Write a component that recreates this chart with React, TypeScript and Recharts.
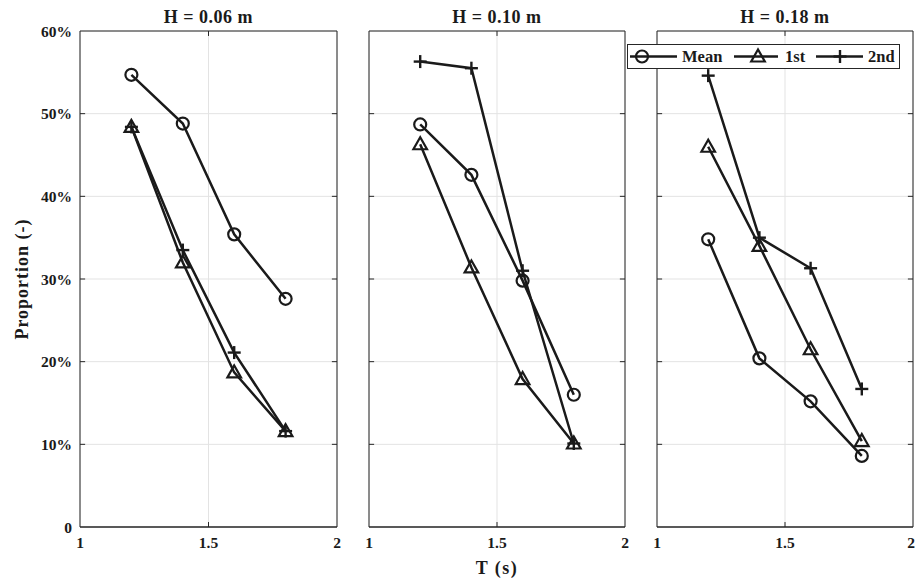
import React from "react";
import { LineChart, Line, XAxis, YAxis, CartesianGrid, ReferenceLine } from "recharts";

// wave period (s)
const periods = [1.2, 1.4, 1.6, 1.8];

const panelTitles = ["H = 0.06 m", "H = 0.10 m", "H = 0.18 m"];
const seriesNames = ["Mean", "1st", "2nd"];

// proportions (%) per panel
const meanH006 = [54.7, 48.8, 35.4, 27.6];
const firstH006 = [48.4, 32.0, 18.7, 11.6];
const secondH006 = [48.4, 33.5, 21.1, 11.6];

const meanH010 = [48.7, 42.6, 29.8, 16.0];
const firstH010 = [46.3, 31.4, 17.9, 10.1];
const secondH010 = [56.3, 55.5, 31.0, 10.1];

const meanH018 = [34.8, 20.4, 15.2, 8.6];
const firstH018 = [46.0, 34.0, 21.5, 10.4];
const secondH018 = [54.6, 35.0, 31.3, 16.7];

const xTicks = [1, 1.5, 2];
const yTicks = [0, 10, 20, 30, 40, 50, 60];

const INK = "#1a1a1a";
const AXIS = "#262626";
const FONT = "'Liberation Serif', 'Times New Roman', serif";

const buildRows = (m: number[], f: number[], s: number[]) =>
  periods.map((t, i) => ({ t, mean: m[i], first: f[i], second: s[i] }));

const panels = [
  buildRows(meanH006, firstH006, secondH006),
  buildRows(meanH010, firstH010, secondH010),
  buildRows(meanH018, firstH018, secondH018),
];

function CircleMark({ cx, cy }: { cx: number; cy: number }) {
  return <circle cx={cx} cy={cy} r={6} fill="none" stroke={INK} strokeWidth={2.2} />;
}
function TriMark({ cx, cy }: { cx: number; cy: number }) {
  return (
    <polygon
      points={`${cx},${cy - 7} ${cx - 6.8},${cy + 5} ${cx + 6.8},${cy + 5}`}
      fill="none" stroke={INK} strokeWidth={2.2} strokeLinejoin="miter"
    />
  );
}
function PlusMark({ cx, cy }: { cx: number; cy: number }) {
  return (
    <g stroke={INK} strokeWidth={2.4}>
      <line x1={cx - 6.5} y1={cy} x2={cx + 6.5} y2={cy} />
      <line x1={cx} y1={cy - 6.5} x2={cx} y2={cy + 6.5} />
    </g>
  );
}

const dotFn = (Mark: typeof CircleMark) => (p: any) =>
  <Mark key={`m-${p.index}`} cx={p.cx} cy={p.cy} />;

const tickStyle = { fontFamily: FONT, fontWeight: 700, fontSize: 15.5, fill: INK };

// chart boxes: left pos, width, margins -> plot areas 80-337, 369-625, 657-913
const layout = [
  { left: 0, width: 345, ml: 0, mr: 8, yw: 80 },
  { left: 361, width: 272, ml: 8, mr: 8, yw: 0 },
  { left: 649, width: 266, ml: 8, mr: 2, yw: 0 },
];

// inward tick marks (matlab style), length in data units
const TX = 0.02;
const TY = 0.6;

function Panel({ idx }: { idx: number }) {
  const l = layout[idx];
  const first = idx === 0;
  return (
    <div style={{ position: "absolute", left: l.left, top: 0 }}>
      <LineChart
        width={l.width}
        height={585}
        data={panels[idx]}
        margin={{ top: 31, right: l.mr, bottom: 28, left: l.ml }}
      >
        <CartesianGrid stroke="#e3e3e3" strokeWidth={1} />
        <XAxis
          type="number" dataKey="t" domain={[1, 2]} ticks={xTicks} allowDataOverflow
          height={30} tickSize={0} tickMargin={10} axisLine={false} tickLine={false}
          tick={tickStyle}
        />
        <YAxis
          type="number" domain={[0, 60]} ticks={yTicks} allowDataOverflow
          hide={!first} width={l.yw} tickSize={0} tickMargin={8}
          axisLine={false} tickLine={false} tick={tickStyle}
          tickFormatter={(v: number) => (v === 0 ? "0" : `${v}%`)}
        />
        {yTicks.slice(1, -1).map((v) => (
          <ReferenceLine key={`yl${v}`} segment={[{ x: 1, y: v }, { x: 1 + TX, y: v }]} stroke={AXIS} />
        ))}
        {yTicks.slice(1, -1).map((v) => (
          <ReferenceLine key={`yr${v}`} segment={[{ x: 2 - TX, y: v }, { x: 2, y: v }]} stroke={AXIS} />
        ))}
        {xTicks.slice(1, -1).map((v) => (
          <ReferenceLine key={`xb${v}`} segment={[{ x: v, y: 0 }, { x: v, y: TY }]} stroke={AXIS} />
        ))}
        {xTicks.slice(1, -1).map((v) => (
          <ReferenceLine key={`xt${v}`} segment={[{ x: v, y: 60 - TY }, { x: v, y: 60 }]} stroke={AXIS} />
        ))}
        <ReferenceLine x={1} stroke={AXIS} strokeWidth={1} />
        <ReferenceLine x={2} stroke={AXIS} strokeWidth={1} />
        <ReferenceLine y={0} stroke={AXIS} strokeWidth={1.5} />
        <ReferenceLine y={60} stroke={AXIS} strokeWidth={1} />
        <Line dataKey="mean" stroke={INK} strokeWidth={2.5} dot={dotFn(CircleMark)}
          activeDot={false} isAnimationActive={false} />
        <Line dataKey="first" stroke={INK} strokeWidth={2.5} dot={dotFn(TriMark)}
          activeDot={false} isAnimationActive={false} />
        <Line dataKey="second" stroke={INK} strokeWidth={2.5} dot={dotFn(PlusMark)}
          activeDot={false} isAnimationActive={false} />
      </LineChart>
    </div>
  );
}

const plotCenters = [208.5, 497, 785];

function LegendBox() {
  const marks = [CircleMark, TriMark, PlusMark];
  const items = [
    { x1: 2, cx: 14, x2: 49, tx: 54 },
    { x1: 106, cx: 130, x2: 150, tx: 157 },
    { x1: 188, cx: 212, x2: 235, tx: 240 },
  ];
  return (
    <div style={{
      position: "absolute", left: 627, top: 44, width: 273, height: 25,
      border: `1px solid ${AXIS}`, background: "#fff", boxSizing: "border-box",
    }}>
      <svg width={271} height={23} style={{ display: "block" }}>
        {items.map((it, i) => {
          const M = marks[i];
          return (
            <g key={seriesNames[i]}>
              <line x1={it.x1} y1={11.5} x2={it.x2} y2={11.5} stroke={INK} strokeWidth={2.5} />
              <M cx={it.cx} cy={11.5} />
              <text x={it.tx} y={17} style={{ fontFamily: FONT, fontWeight: 700, fontSize: 16.5 }} fill={INK}>
                {seriesNames[i]}
              </text>
            </g>
          );
        })}
      </svg>
    </div>
  );
}

export default function App() {
  return (
    <div style={{
      position: "absolute", left: 0, top: 0, width: 915, height: 585,
      overflow: "hidden", background: "#fff", fontFamily: FONT, color: INK,
    }}>
      {[0, 1, 2].map((i) => <Panel key={i} idx={i} />)}
      {panelTitles.map((t, i) => (
        <div key={t} style={{
          position: "absolute", left: plotCenters[i] - 100, width: 200, top: 6,
          textAlign: "center", fontWeight: 700, fontSize: 18, lineHeight: "22px",
          letterSpacing: 0.5,
        }}>{t}</div>
      ))}
      <LegendBox />
      <div style={{
        position: "absolute", left: 397, width: 200, top: 557, textAlign: "center",
        fontWeight: 700, fontSize: 18, lineHeight: "22px", letterSpacing: 1.5,
      }}>T (s)</div>
      <div style={{
        position: "absolute", left: 22, top: 279, width: 200, marginLeft: -100,
        textAlign: "center", fontWeight: 700, fontSize: 18, lineHeight: "22px",
        letterSpacing: 1, transform: "translateY(-11px) rotate(-90deg)",
      }}>Proportion (-)</div>
    </div>
  );
}
